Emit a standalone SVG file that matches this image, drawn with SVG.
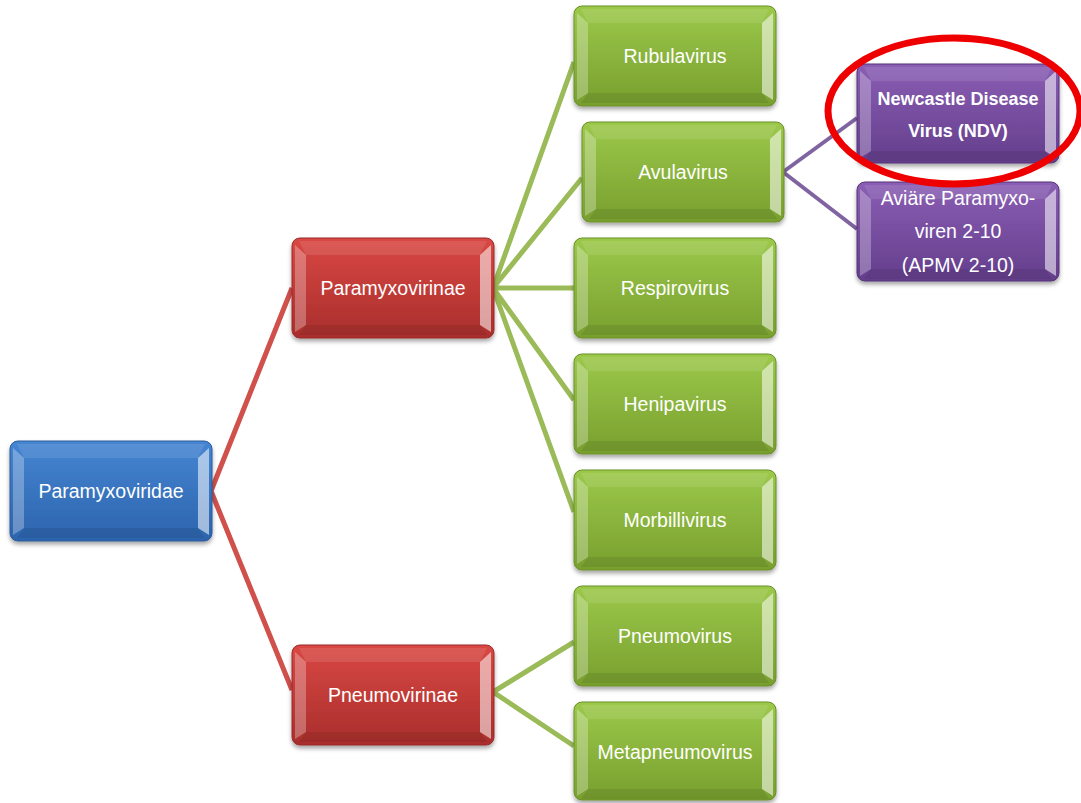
<svg xmlns="http://www.w3.org/2000/svg" width="1081" height="803" viewBox="0 0 1081 803">
<style>
.t{font-family:"Liberation Sans",Arial,sans-serif;font-size:19.5px;fill:#fff;text-anchor:middle}
.b{font-weight:bold;font-size:18px}
.cr{stroke:#d0504c;stroke-width:5;fill:none}
.cg{stroke:#9bbb59;stroke-width:5;fill:none}
.cp{stroke:#8064a2;stroke-width:4;fill:none}
</style>
<defs>
<linearGradient id="gBlue" x1="0" y1="0" x2="0" y2="1"><stop offset="0" stop-color="#4685d2"/><stop offset="1" stop-color="#2c64ad"/></linearGradient>
<linearGradient id="gRed" x1="0" y1="0" x2="0" y2="1"><stop offset="0" stop-color="#d94844"/><stop offset="1" stop-color="#a92e2c"/></linearGradient>
<linearGradient id="gGreen" x1="0" y1="0" x2="0" y2="1"><stop offset="0" stop-color="#9cc94b"/><stop offset="1" stop-color="#789f2e"/></linearGradient>
<linearGradient id="gPurple" x1="0" y1="0" x2="0" y2="1"><stop offset="0" stop-color="#8a5eb4"/><stop offset="1" stop-color="#643e8c"/></linearGradient>
<filter id="sh" x="-10%" y="-10%" width="120%" height="130%"><feDropShadow dx="0" dy="3" stdDeviation="2" flood-color="#000" flood-opacity="0.35"/></filter>
<g id="bevel">
<polygon points="3,7 14,17 14,87 3,94" fill="#fff" opacity="0.28"/>
<polygon points="199,7 188,17 188,87 199,94" fill="#fff" opacity="0.55"/>
<polygon points="7,3 195,3 188,17 14,17" fill="#fff" opacity="0.1"/>
<polygon points="7,97 195,97 188,87 14,87" fill="#000" opacity="0.08"/>
</g>
</defs>
<g id="connectors">
<path class="cr" d="M211,491 L292,288 M211,491 L292,690"/>
<path class="cg" d="M493,288 L574,62 M493,288 L582,178 M493,288 L574,288 M493,288 L574,400 M493,288 L574,512"/>
<path class="cg" d="M493,692 L574,642 M493,692 L574,746"/>
<path class="cp" d="M783,172 L857,118 M783,172 L857,229"/>
</g>
<g id="n-paramyxoviridae" transform="translate(10,441)"><rect width="202" height="100" rx="8" fill="url(#gBlue)" stroke="#2a5a9a" stroke-width="1" filter="url(#sh)"/><use href="#bevel"/><text class="t" x="101" y="57">Paramyxoviridae</text></g>
<g id="n-paramyxovirinae" transform="translate(292,238)"><rect width="202" height="100" rx="8" fill="url(#gRed)" stroke="#9a2a28" stroke-width="1" filter="url(#sh)"/><use href="#bevel"/><text class="t" x="101" y="57">Paramyxovirinae</text></g>
<g id="n-pneumovirinae" transform="translate(292,645)"><rect width="202" height="100" rx="8" fill="url(#gRed)" stroke="#9a2a28" stroke-width="1" filter="url(#sh)"/><use href="#bevel"/><text class="t" x="101" y="57">Pneumovirinae</text></g>
<g id="n-rubulavirus" transform="translate(574,6)"><rect width="202" height="100" rx="8" fill="url(#gGreen)" stroke="#6b8f28" stroke-width="1" filter="url(#sh)"/><use href="#bevel"/><text class="t" x="101" y="57">Rubulavirus</text></g>
<g id="n-avulavirus" transform="translate(582,122)"><rect width="202" height="100" rx="8" fill="url(#gGreen)" stroke="#6b8f28" stroke-width="1" filter="url(#sh)"/><use href="#bevel"/><text class="t" x="101" y="57">Avulavirus</text></g>
<g id="n-respirovirus" transform="translate(574,238)"><rect width="202" height="100" rx="8" fill="url(#gGreen)" stroke="#6b8f28" stroke-width="1" filter="url(#sh)"/><use href="#bevel"/><text class="t" x="101" y="57">Respirovirus</text></g>
<g id="n-henipavirus" transform="translate(574,354)"><rect width="202" height="100" rx="8" fill="url(#gGreen)" stroke="#6b8f28" stroke-width="1" filter="url(#sh)"/><use href="#bevel"/><text class="t" x="101" y="57">Henipavirus</text></g>
<g id="n-morbillivirus" transform="translate(574,470)"><rect width="202" height="100" rx="8" fill="url(#gGreen)" stroke="#6b8f28" stroke-width="1" filter="url(#sh)"/><use href="#bevel"/><text class="t" x="101" y="57">Morbillivirus</text></g>
<g id="n-pneumovirus" transform="translate(574,586)"><rect width="202" height="100" rx="8" fill="url(#gGreen)" stroke="#6b8f28" stroke-width="1" filter="url(#sh)"/><use href="#bevel"/><text class="t" x="101" y="57">Pneumovirus</text></g>
<g id="n-metapneumovirus" transform="translate(574,702)"><rect width="202" height="98" rx="8" fill="url(#gGreen)" stroke="#6b8f28" stroke-width="1" filter="url(#sh)"/><use href="#bevel"/><text class="t" x="101" y="57">Metapneumovirus</text></g>
<g id="n-ndv" transform="translate(857,64)"><rect width="202" height="99" rx="8" fill="url(#gPurple)" stroke="#553478" stroke-width="1" filter="url(#sh)"/><use href="#bevel"/><text class="t b" x="101" y="40.5">Newcastle Disease</text><text class="t b" x="101" y="72.5">Virus (NDV)</text></g>
<g id="n-apmv" transform="translate(857,182)"><rect width="202" height="99" rx="8" fill="url(#gPurple)" stroke="#553478" stroke-width="1" filter="url(#sh)"/><use href="#bevel"/><text class="t" x="101" y="22.5">Aviäre Paramyxo-</text><text class="t" x="101" y="55.5">viren 2-10</text><text class="t" x="101" y="89.5">(APMV 2-10)</text></g>
<ellipse id="highlight" cx="954" cy="111" rx="126" ry="73" fill="none" stroke="#ee0000" stroke-width="7"/>
</svg>
